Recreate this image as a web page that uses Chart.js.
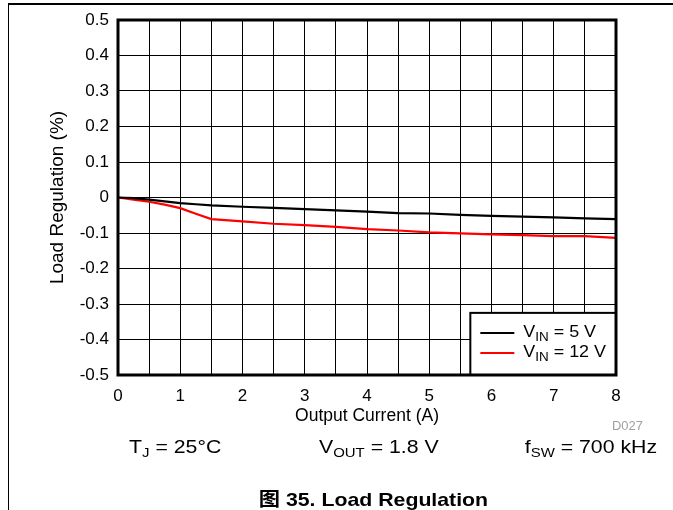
<!DOCTYPE html>
<html>
<head>
<meta charset="utf-8">
<script src="https://cdn.jsdelivr.net/npm/chart.js@4.4.1/dist/chart.umd.min.js"></script>
<style>
  html, body { margin: 0; padding: 0; background: #fff; }
  body { width: 673px; height: 510px; position: relative; overflow: hidden; font-family: "Liberation Sans", Arial, sans-serif; }
  #frame { position: absolute; left: 8px; top: 3px; width: 700px; height: 600px; border-top: 2px solid #000; border-left: 1px solid #000; }
  #wrap { position: absolute; left: 0; top: 0; width: 673px; height: 510px; }
  .note { position: absolute; font-size: 18.5px; color: #000; white-space: nowrap; top: 436px; transform: scaleX(1.15); transform-origin: left center; }
  .note sub { font-size: 13px; vertical-align: -4px; line-height: 0; }
  #d027 { position: absolute; left: 612px; top: 419px; font-size: 12px; color: #a0a0a0; transform: scaleX(1.08); transform-origin: left center; }
  #caption { position: absolute; left: 0; width: 747px; text-align: center; top: 484px; font-size: 19px; font-weight: bold; font-family: "Liberation Sans", "Noto Sans CJK SC", sans-serif; transform: scaleX(1.12); transform-origin: 374px center; }
</style>
</head>
<body>
<div id="frame"></div>
<div id="wrap"><canvas id="chart" width="673" height="510"></canvas></div>
<div id="d027">D027</div>
<div class="note" style="left:129px">T<sub>J</sub> = 25°C</div>
<div class="note" style="left:319px">V<sub>OUT</sub> = 1.8 V</div>
<div class="note" style="right:16px; transform-origin: right center;">f<sub>SW</sub> = 700 kHz</div>
<div id="caption">图 35. Load Regulation</div>
<script>
// Courant de sortie (A)
const current = [0, 0.25, 0.5, 0.75, 1, 1.25, 1.5, 2, 2.5, 3, 3.5, 4, 4.5, 5, 5.5, 6, 6.5, 7, 7.5, 8];
// Régulation de charge (%) pour VIN = 5 V et VIN = 12 V
const reg5V  = [0, -0.002, -0.006, -0.011, -0.016, -0.019, -0.022, -0.026, -0.029, -0.033, -0.036, -0.040, -0.044, -0.045, -0.049, -0.052, -0.054, -0.056, -0.059, -0.061];
const reg12V = [0, -0.006, -0.012, -0.020, -0.030, -0.046, -0.061, -0.067, -0.074, -0.078, -0.083, -0.089, -0.093, -0.098, -0.101, -0.104, -0.106, -0.109, -0.109, -0.114];
const legendLabels = [{ sub: 'IN', rest: ' = 5 V' }, { sub: 'IN', rest: ' = 12 V' }];
const yTicks = [0.5, 0.4, 0.3, 0.2, 0.1, 0, -0.1, -0.2, -0.3, -0.4, -0.5];

const toPoints = (ys) => current.map((x, i) => ({ x: x, y: ys[i] }));

// Texte légèrement étiré horizontalement (comme la figure d'origine)
function stretchText(ctx, txt, x, y, sx) {
  ctx.save();
  ctx.translate(x, y);
  ctx.scale(sx, 1);
  ctx.fillText(txt, 0, 0);
  ctx.restore();
  return ctx.measureText(txt).width * sx;
}

// Cadre épais autour de la zone de tracé + légende encadrée
const framePlugin = {
  id: 'framePlugin',
  afterDraw(chart) {
    const ctx = chart.ctx;
    const a = chart.chartArea;
    const xs = chart.scales.x, ys = chart.scales.y;
    ctx.save();

    // légende
    const lx1 = xs.getPixelForValue(5.66), lx2 = a.right;
    const ly1 = ys.getPixelForValue(-0.325), ly2 = a.bottom;
    ctx.fillStyle = '#fff';
    ctx.fillRect(lx1, ly1, lx2 - lx1, ly2 - ly1);
    ctx.strokeStyle = '#000';
    ctx.lineWidth = 2;
    ctx.strokeRect(lx1, ly1, lx2 - lx1, ly2 - ly1);
    const colors = ['#000', '#ff0000'];
    legendLabels.forEach((lab, i) => {
      const y = ly1 + 20 + i * 20;
      ctx.strokeStyle = colors[i];
      ctx.lineWidth = 2;
      ctx.beginPath();
      ctx.moveTo(lx1 + 10, y);
      ctx.lineTo(lx1 + 44, y);
      ctx.stroke();
      ctx.fillStyle = '#000';
      ctx.textBaseline = 'middle';
      const sx = 1.12;
      ctx.font = '16px "Liberation Sans", Arial, sans-serif';
      let x = lx1 + 53;
      x += stretchText(ctx, 'V', x, y, sx);
      ctx.font = '12px "Liberation Sans", Arial, sans-serif';
      x += stretchText(ctx, lab.sub, x, y + 5, sx);
      ctx.font = '16px "Liberation Sans", Arial, sans-serif';
      stretchText(ctx, lab.rest, x, y, sx);
    });

    ctx.strokeStyle = '#000';
    ctx.lineWidth = 3;
    ctx.strokeRect(a.left, a.top, a.right - a.left, a.bottom - a.top);
    ctx.restore();
  }
};

const tickFont = { family: '"Liberation Sans", Arial, sans-serif', size: 17 };

new Chart(document.getElementById('chart'), {
  type: 'line',
  data: {
    datasets: [
      { label: 'VIN = 5 V', data: toPoints(reg5V), borderColor: '#000', borderWidth: 2.2, pointRadius: 0, tension: 0 },
      { label: 'VIN = 12 V', data: toPoints(reg12V), borderColor: '#ff0000', borderWidth: 2.2, pointRadius: 0, tension: 0 }
    ]
  },
  options: {
    responsive: false,
    animation: false,
    layout: { padding: { left: 40, right: 57, top: 20, bottom: 79 } },
    plugins: { legend: { display: false }, tooltip: { enabled: false } },
    scales: {
      x: {
        type: 'linear', min: 0, max: 8,
        afterFit: (s) => { s.height = 56; },
        ticks: {
          stepSize: 0.5, color: '#000', font: tickFont, padding: 11, maxRotation: 0,
          callback: (v) => Number.isInteger(v) ? String(v) : ''
        },
        grid: { color: '#000', lineWidth: 1, drawTicks: false },
        border: { display: false },
        title: { display: true, text: 'Output Current (A)', color: '#000', font: { family: tickFont.family, size: 17.5 }, padding: { top: 0, bottom: 4 } }
      },
      y: {
        min: -0.5, max: 0.5,
        afterFit: (s) => { s.width = 78; },
        afterBuildTicks: (s) => { s.ticks = yTicks.map((v) => ({ value: v })); },
        ticks: { color: '#000', font: tickFont, padding: 9, callback: (v) => String(Math.round(v * 10) / 10) },
        grid: { color: '#000', lineWidth: 1, drawTicks: false },
        border: { display: false },
        title: { display: true, text: 'Load Regulation (%)', color: '#000', font: { family: tickFont.family, size: 19 }, padding: { top: 6, bottom: 4 } }
      }
    }
  },
  plugins: [framePlugin]
});
</script>
</body>
</html>
